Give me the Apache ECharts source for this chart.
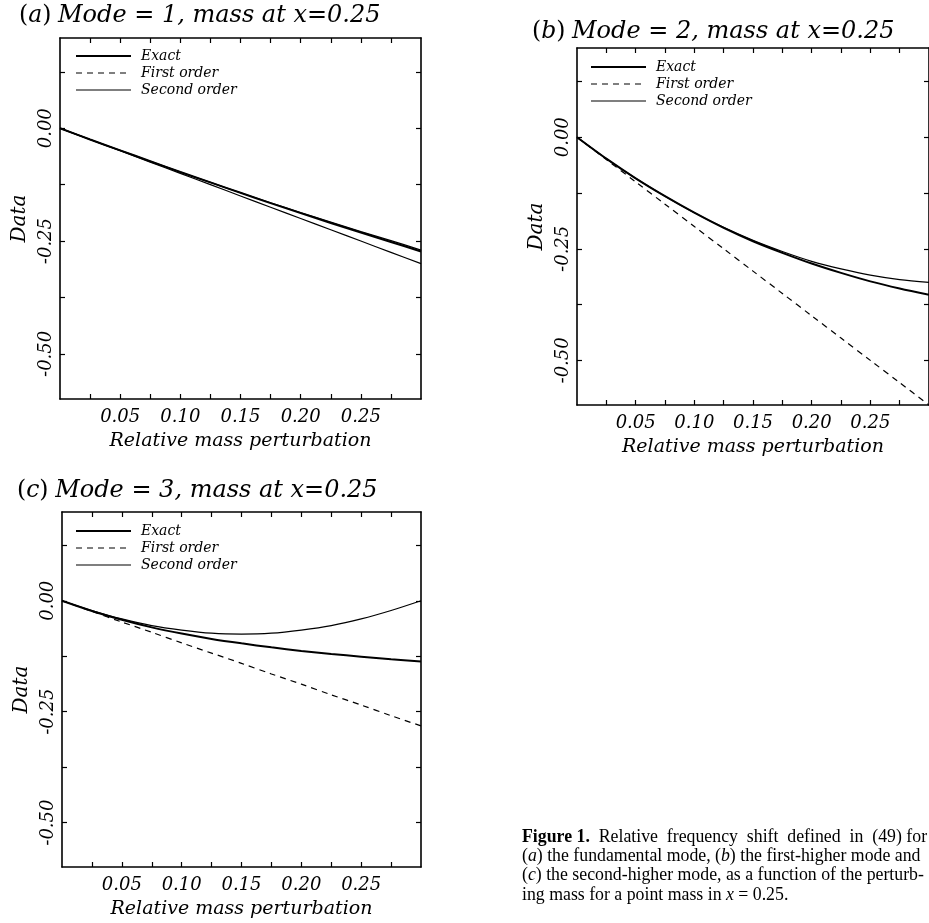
<!DOCTYPE html>
<html><head><meta charset="utf-8">
<script src="https://cdn.jsdelivr.net/npm/echarts@6/dist/echarts.min.js"></script>
<style>html,body{margin:0;padding:0;background:#fff}#c{width:929px;height:923px}</style>
</head><body><div id="c"></div>
<script>
// ---- data ----
const xs = [0, 0.025, 0.05, 0.075, 0.1, 0.125, 0.15, 0.175, 0.2, 0.225, 0.25, 0.275, 0.3];
const xTickValues = [0.025, 0.05, 0.075, 0.1, 0.125, 0.15, 0.175, 0.2, 0.225, 0.25, 0.275];
const xLabelValues = [0.05, 0.10, 0.15, 0.20, 0.25];
const yTickValues = [-0.5, -0.375, -0.25, -0.125, 0, 0.125];
const yLabelValues = [-0.5, -0.25, 0];
const seriesNames = ['Exact', 'First order', 'Second order'];
const titles = ['Mode = 1, mass at x=0.25', 'Mode = 2, mass at x=0.25', 'Mode = 3, mass at x=0.25'];
const panelLetters = ['a', 'b', 'c'];

const exactA  = [0, -0.025, -0.049, -0.073, -0.097, -0.120, -0.143, -0.166, -0.188, -0.210, -0.231, -0.252, -0.273];
const firstA  = [0, -0.025, -0.050, -0.075, -0.100, -0.125, -0.150, -0.175, -0.200, -0.225, -0.250, -0.275, -0.300];
const secondA = [0, -0.025, -0.049, -0.073, -0.097, -0.120, -0.143, -0.165, -0.187, -0.208, -0.229, -0.249, -0.270];

const exactB  = [0, -0.048, -0.092, -0.132, -0.169, -0.203, -0.233, -0.259, -0.283, -0.304, -0.323, -0.339, -0.353];
const firstB  = [0, -0.050, -0.100, -0.150, -0.200, -0.250, -0.300, -0.350, -0.400, -0.450, -0.500, -0.550, -0.600];
const secondB = [0, -0.048, -0.092, -0.132, -0.169, -0.202, -0.231, -0.256, -0.278, -0.295, -0.309, -0.319, -0.325];

const exactC  = [0, -0.023, -0.043, -0.060, -0.074, -0.086, -0.096, -0.105, -0.113, -0.120, -0.126, -0.132, -0.137];
const firstC  = [0, -0.024, -0.048, -0.071, -0.095, -0.118, -0.141, -0.165, -0.188, -0.212, -0.235, -0.259, -0.282];
const secondC = [0, -0.022, -0.041, -0.056, -0.066, -0.073, -0.075, -0.073, -0.066, -0.056, -0.041, -0.022, 0];

const panelData = [[exactA, firstA, secondA], [exactB, firstB, secondB], [exactC, firstC, secondC]];

const captionLines = [
  '{b|Figure 1.}  Relative  frequency  shift  defined  in  (49) for',
  '({i|a}) the fundamental mode, ({i|b}) the first-higher mode and',
  '({i|c}) the second-higher mode, as a function of the perturb-',
  'ing mass for a point mass in {i|x} = 0.25.'
];

// ---- layout ----
const FONT = 'DejaVu Serif';
const grids = [
  {left: 60, top: 38, width: 361, height: 361},
  {left: 577, top: 48, width: 353, height: 357},
  {left: 62, top: 512, width: 359, height: 355}
];
const legendPos = [{left: 75, top: 49}, {left: 590, top: 60}, {left: 75, top: 524}];
const titlePos = [{left: 19, top: 4}, {left: 532, top: 20}, {left: 17, top: 479}];

const pair = arr => xs.map((x, i) => [x, arr[i]]);
const axLine = {show: true, onZero: false, lineStyle: {color: '#000', width: 1.6}};
const tickX = {show: true, inside: true, length: 5, customValues: xTickValues, lineStyle: {color: '#000', width: 1.2}};
const tickY = {show: true, inside: true, length: 5, customValues: yTickValues, lineStyle: {color: '#000', width: 1.2}};
const italic = {fontFamily: FONT, fontStyle: 'italic', fontWeight: 'normal', color: '#000'};
const CAP = 'Liberation Serif';
const CAPSIZE = 17.8;
const hidden = {color: 'rgba(0,0,0,0)', borderWidth: 0, opacity: 0};

const option = {
  backgroundColor: '#fff',
  animation: false,
  grid: grids.map(g => Object.assign({containLabel: false}, g)),
  title: titlePos.map((p, i) => ({
    left: p.left, top: p.top, padding: 0,
    text: '{p|(}{l|' + panelLetters[i] + '}{p|)}{s| }{t|' + titles[i] + '}',
    textStyle: {fontWeight: 'normal', rich: {
      p: {fontFamily: FONT, fontSize: 23.5, fontWeight: 'normal', color: '#000'},
      l: {fontFamily: FONT, fontSize: 23.5, fontStyle: 'italic', fontWeight: 'normal', color: '#000'},
      s: {fontSize: 24, fontWeight: 'normal'},
      t: {fontFamily: FONT, fontSize: 24, fontStyle: 'italic', fontWeight: 'normal', color: '#000'}
    }}
  })),
  legend: legendPos.map((p, i) => ({
    left: p.left, top: p.top, orient: 'vertical', padding: 0,
    itemWidth: 55, itemHeight: 14, itemGap: 3,
    selectedMode: false,
    itemStyle: hidden,
    data: [
      {name: 'Exact', itemStyle: hidden, lineStyle: {type: 'solid', width: 2, color: '#000'}},
      {name: 'First order', itemStyle: hidden, lineStyle: {type: [6, 5], width: 1.2, color: '#000'}},
      {name: 'Second order', itemStyle: hidden, lineStyle: {type: 'solid', width: 1.2, color: '#000'}}
    ],
    textStyle: Object.assign({fontSize: 14, lineHeight: 14, padding: [0, 0, 0, 5]}, italic)
  })),
  xAxis: [],
  yAxis: [],
  series: [],
  graphic: captionLines.map((t, i) => ({
    type: 'text', left: 522, top: 828 + i * 19.3,
    style: {
      text: t,
      fill: '#000',
      font: CAPSIZE + 'px "' + CAP + '"',
      rich: {
        b: {fontFamily: CAP, fontSize: CAPSIZE, fontWeight: 'bold', fill: '#000'},
        i: {fontFamily: CAP, fontSize: CAPSIZE, fontStyle: 'italic', fill: '#000'}
      }
    }
  }))
};

for (let i = 0; i < 3; i++) {
  option.xAxis.push({
    gridIndex: i, type: 'value', min: 0, max: 0.3, interval: 0.05, position: 'bottom',
    axisLine: axLine, axisTick: tickX, splitLine: {show: false},
    axisLabel: Object.assign({customValues: xLabelValues, formatter: v => v.toFixed(2), margin: 9, fontSize: 18}, italic),
    name: 'Relative mass perturbation', nameLocation: 'middle', nameGap: 33,
    nameTextStyle: Object.assign({fontSize: 19}, italic)
  });
  option.xAxis.push({
    gridIndex: i, type: 'value', min: 0, max: 0.3, interval: 0.05, position: 'top',
    axisLine: axLine, axisTick: tickX, splitLine: {show: false}, axisLabel: {show: false}
  });
  option.yAxis.push({
    gridIndex: i, type: 'value', min: -0.6, max: 0.2, interval: 0.2, position: 'left',
    axisLine: axLine, axisTick: tickY, splitLine: {show: false},
    axisLabel: Object.assign({customValues: yLabelValues, formatter: v => v.toFixed(2), rotate: 90, margin: 5, fontSize: 18}, italic),
    name: 'Data', nameLocation: 'middle', nameGap: 30, nameRotate: 90,
    nameTextStyle: Object.assign({fontSize: 20}, italic)
  });
  option.yAxis.push({
    gridIndex: i, type: 'value', min: -0.6, max: 0.2, interval: 0.2, position: 'right',
    axisLine: axLine, axisTick: tickY, splitLine: {show: false}, axisLabel: {show: false}
  });
  const d = panelData[i];
  const styles = [
    {type: 'solid', width: 2},
    {type: i === 0 ? 'solid' : [6, 5], width: 1.2},
    {type: 'solid', width: 1.2}
  ];
  for (let s = 0; s < 3; s++) {
    option.series.push({
      type: 'line', name: seriesNames[s],
      xAxisIndex: i * 2, yAxisIndex: i * 2,
      data: pair(d[s]), symbol: 'none', smooth: 0.3,
      lineStyle: Object.assign({color: '#000'}, styles[s]),
      itemStyle: {color: '#000'}, z: 3 - s
    });
  }
}

const chart = echarts.init(document.getElementById('c'), null, {renderer: 'canvas'});
chart.setOption(option);
</script>
</body></html>
